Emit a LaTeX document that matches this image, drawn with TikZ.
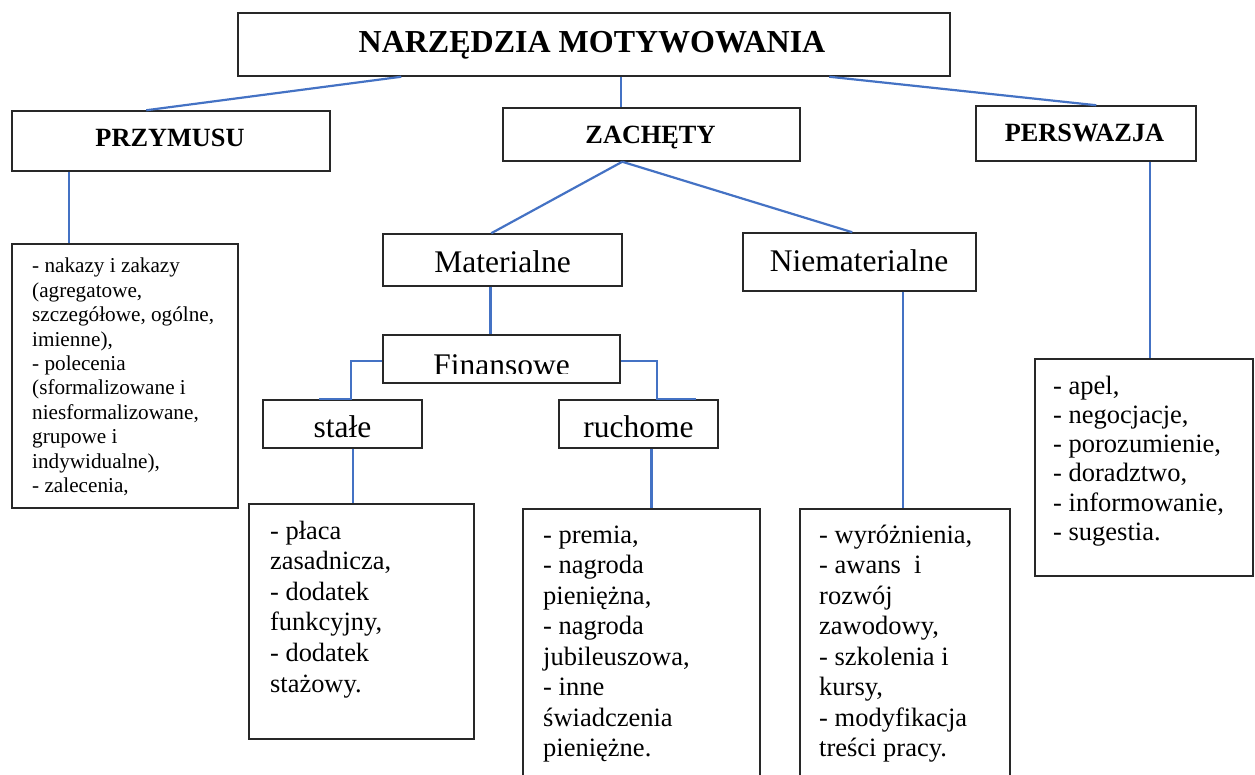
\documentclass[tikz,border=0pt]{standalone}
\usepackage{fontspec}
\setmainfont{Liberation Serif}
\usetikzlibrary{calc}

\definecolor{linkblue}{RGB}{68,114,196}
\definecolor{framegray}{RGB}{40,40,40}

\tikzset{
  box/.style={draw=framegray, line width=1.5pt, inner sep=0pt},
  conn/.style={draw=linkblue, line width=2.2pt},
  thickconn/.style={draw=linkblue, line width=3.2pt},
  titletext/.style={font=\fontsize{32}{36}\selectfont\bfseries, anchor=base, inner sep=0pt},
  headtext/.style={font=\fontsize{26.3}{30}\selectfont\bfseries, anchor=base, inner sep=0pt},
  subtext/.style={font=\fontsize{31.5}{36}\selectfont, anchor=base, inner sep=0pt},
  listtext/.style={anchor=base west, inner sep=0pt},
}

% list block: first argument font size, second leading, third lines
\newcommand\listblock[3]{\parbox[t]{300pt}{\fontsize{#1}{#2}\selectfont\raggedright #3}}

\begin{document}
\begin{tikzpicture}[x=1pt, y=-1pt]
\useasboundingbox (0,0) rectangle (1255,775);
\clip (0,0) rectangle (1255,775);

% ---- frames ----
\node[box, minimum width=712pt, minimum height=63pt] (title)    at (594,44.5)   {};
\node[box, minimum width=318pt, minimum height=60pt] (przy)     at (171,141)    {};
\node[box, minimum width=297pt, minimum height=53pt] (zach)     at (651.5,134.5){};
\node[box, minimum width=220pt, minimum height=55pt] (pers)     at (1086,133.5) {};
\node[box, minimum width=239pt, minimum height=52pt] (mat)      at (502.5,260)  {};
\node[box, minimum width=233pt, minimum height=58pt] (niemat)   at (859.5,262)  {};
\node[box, minimum width=237pt, minimum height=48pt] (fin)      at (501.5,359)  {};
\node[box, minimum width=159pt, minimum height=48pt] (stale)    at (342.5,424)  {};
\node[box, minimum width=159pt, minimum height=48pt] (ruch)     at (638.5,424)  {};
\node[box, minimum width=226pt, minimum height=264pt] (przylist) at (125,376)   {};
\node[box, minimum width=225pt, minimum height=235pt] (placa)   at (361.5,621.5){};
\node[box, minimum width=237pt, minimum height=283pt] (premia)  at (641.5,650.5){};
\node[box, minimum width=210pt, minimum height=283pt] (wyr)     at (905,650.5)  {};
\node[box, minimum width=218pt, minimum height=217pt] (apel)    at (1144,467.5) {};

% ---- headings ----
\node[titletext] (titlelbl) at (592,53)    {NARZĘDZIA MOTYWOWANIA};
\node[headtext]  (przylbl)  at (170,147)   {PRZYMUSU};
\node[headtext]  (zachlbl)  at (650.5,144) {ZACHĘTY};
\node[headtext]  (perslbl)  at (1084.5,142){PERSWAZJA};
\node[subtext]   (matlbl)   at (502.5,273) {Materialne};
\node[subtext]   (niematlbl) at (859,272)  {Niematerialne};
\begin{scope}
  \clip (383,335) rectangle (620,373.5);
  \node[subtext] (finlbl) at (501.5,375.5) {Finansowe};
\end{scope}
\node[subtext]   (stalelbl) at (342.5,437) {stałe};
\node[subtext]   (ruchlbl)  at (638.5,437) {ruchome};

% ---- lists ----
\node[listtext] (przyitems) at (32,273) {\listblock{21.2}{24.4}{%
- nakazy i zakazy\\
(agregatowe,\\
szczegółowe, ogólne,\\
imienne),\\
- polecenia\\
(sformalizowane i\\
niesformalizowane,\\
grupowe i\\
indywidualne),\\
- zalecenia,}};

\node[listtext] (placaitems) at (270,539) {\listblock{26.4}{30.6}{%
- płaca\\
zasadnicza,\\
- dodatek\\
funkcyjny,\\
- dodatek\\
stażowy.}};

\node[listtext] (premiaitems) at (543,543) {\listblock{26.5}{30.5}{%
- premia,\\
- nagroda\\
pieniężna,\\
- nagroda\\
jubileuszowa,\\
- inne\\
świadczenia\\
pieniężne.}};

\node[listtext] (wyritems) at (819,543) {\listblock{26.5}{30.5}{%
- wyróżnienia,\\
- awans\ \ i\\
rozwój\\
zawodowy,\\
- szkolenia i\\
kursy,\\
- modyfikacja\\
treści pracy.}};

\node[listtext] (apelitems) at (1053,394) {\listblock{26.5}{29.3}{%
- apel,\\
- negocjacje,\\
- porozumienie,\\
- doradztwo,\\
- informowanie,\\
- sugestia.}};

% ---- connectors ----
\draw[conn] ([xshift=164pt]title.south west) -- ([xshift=135pt]przy.north west);
\draw[conn] ([xshift=384pt]title.south west) -- ([xshift=119pt]zach.north west);
\draw[conn] ([xshift=592pt]title.south west) -- ([xshift=121pt]pers.north west);
\draw[conn] ([xshift=58pt]przy.south west) -- ([xshift=58pt]przylist.north west);
\draw[conn] ([xshift=120pt]zach.south west) -- ([xshift=109pt]mat.north west);
\draw[conn] ([xshift=120pt]zach.south west) -- ([xshift=110pt]niemat.north west);
\draw[conn] ([xshift=175pt]pers.south west) -- ([xshift=116pt]apel.north west);
\draw[thickconn] ([xshift=108pt]mat.south west) -- ([xshift=108pt]fin.north west);
\draw[conn] ([xshift=161pt]niemat.south west) -- ([xshift=104pt]wyr.north west);
\draw[conn] ([yshift=-2pt]fin.west) -| ([xshift=89pt]stale.north west) -- ([xshift=57pt]stale.north west);
\draw[conn] ([yshift=-2pt]fin.east) -| ([xshift=99pt]ruch.north west) -- ([xshift=138pt]ruch.north west);
\draw[conn] ([xshift=91pt]stale.south west) -- ([xshift=105pt]placa.north west);
\draw[thickconn] ([xshift=93pt]ruch.south west) -- ([xshift=129pt]premia.north west);
\end{tikzpicture}
\end{document}
